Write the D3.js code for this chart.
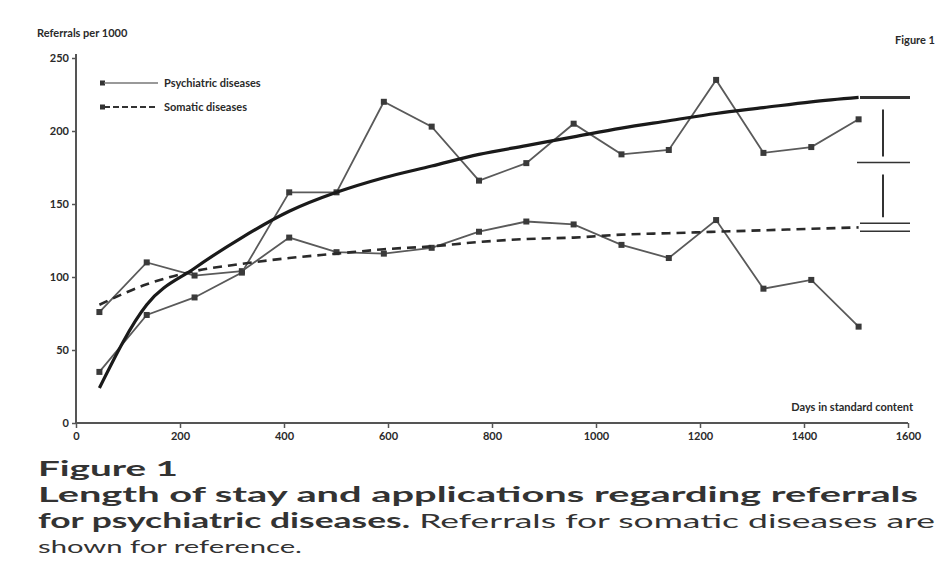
<!DOCTYPE html>
<html>
<head>
<meta charset="utf-8">
<script src="https://cdn.jsdelivr.net/npm/d3@7"></script>
<style>
  html, body { margin: 0; padding: 0; background: #fff; }
  svg { display: block; }
  text { font-family: "Lato", "Open Sans", sans-serif; }
</style>
</head>
<body>
<svg id="chart" width="942" height="576"></svg>
<script>
// ---- data ----
const days = [45, 136, 228, 319, 410, 501, 592, 684, 775, 866, 957, 1049, 1140, 1231, 1322, 1414, 1505];
const psychiatric = [35, 74, 86, 103, 158, 158, 220, 203, 166, 178, 205, 184, 187, 235, 185, 189, 208];
const somatic = [76, 110, 101, 104, 127, 117, 116, 120, 131, 138, 136, 122, 113, 139, 92, 98, 66];
const psychiatricFit = [24, 81, 106, 127, 145, 158, 168, 176, 184, 190, 196, 202, 207, 212, 216, 220, 223];
const somaticFit = [81, 95, 104, 109, 113, 116, 119, 121, 124, 126, 127, 129, 130, 131, 132, 133, 134];
const yTicks = [0, 50, 100, 150, 200, 250];
const xTicks = [0, 200, 400, 600, 800, 1000, 1200, 1400, 1600];
const legendLabels = ["Psychiatric diseases", "Somatic diseases"];
const yAxisTitle = "Referrals per 1000";
const xAxisTitle = "Days in standard content";
const cornerLabel = "Figure 1";
const captionTitle = "Figure 1";
const captionLine1 = "Length of stay and applications regarding referrals";
const captionLine2Bold = "for psychiatric diseases.";
const captionLine2Rest = " Referrals for somatic diseases are";
const captionLine3 = "shown for reference.";

// ---- drawing ----
const svg = d3.select("#chart");
const x = d3.scaleLinear().domain([0, 1600]).range([76, 908]);
const y = d3.scaleLinear().domain([0, 250]).range([423, 58]);
const ink = "#2a2a2a";

// axes
const yAxis = d3.axisLeft(y).tickValues(yTicks).tickSize(4).tickPadding(3).tickFormat(d3.format("d"));
const gy = svg.append("g").attr("transform", `translate(${x(0)},0)`).call(yAxis);
gy.select(".domain").attr("stroke", "#555").attr("stroke-width", 2).attr("d", `M0,${y(0)}V${y(250) - 4}`);
gy.selectAll(".tick line").attr("stroke", "#555").attr("stroke-width", 1.5);
gy.selectAll(".tick text").attr("font-size", 11).attr("font-weight", 700).attr("fill", ink);

const xAxis = d3.axisBottom(x).tickValues(xTicks).tickSize(5).tickPadding(4).tickFormat(d3.format("d"));
const gx = svg.append("g").attr("transform", `translate(0,${y(0)})`).call(xAxis);
gx.select(".domain").attr("stroke", "#555").attr("stroke-width", 2).attr("d", `M${x(0)},0H${x(1600)}`);
gx.selectAll(".tick line").attr("stroke", "#555").attr("stroke-width", 1.5);
gx.selectAll(".tick text").attr("font-size", 11).attr("font-weight", 700).attr("fill", ink);

// titles
svg.append("text").attr("x", 37).attr("y", 37).attr("font-size", 11).attr("font-weight", 700)
  .attr("fill", ink).text(yAxisTitle);
svg.append("text").attr("x", 935).attr("y", 44).attr("text-anchor", "end").attr("font-size", 11)
  .attr("font-weight", 700).attr("fill", ink).text(cornerLabel);
svg.append("text").attr("x", 913).attr("y", 411).attr("text-anchor", "end").attr("font-size", 11)
  .attr("font-weight", 700).attr("fill", ink).text(xAxisTitle);

// lines
const line = d3.line().x((d, i) => x(days[i])).y(d => y(d));
const curve = d3.line().x((d, i) => x(days[i])).y(d => y(d)).curve(d3.curveMonotoneX);

function dataSeries(vals) {
  svg.append("path").attr("d", line(vals)).attr("fill", "none")
    .attr("stroke", "#5a5a5a").attr("stroke-width", 1.8);
  svg.append("g").selectAll("rect").data(vals).join("rect")
    .attr("x", (d, i) => x(days[i]) - 3).attr("y", d => y(d) - 3)
    .attr("width", 6).attr("height", 6).attr("fill", "#3a3a3a");
}
dataSeries(somatic);
dataSeries(psychiatric);

svg.append("path").attr("d", curve(somaticFit)).attr("fill", "none")
  .attr("stroke", "#2a2a2a").attr("stroke-width", 2.6).attr("stroke-dasharray", "9,6");
svg.append("path").attr("d", curve(psychiatricFit)).attr("fill", "none")
  .attr("stroke", "#1a1a1a").attr("stroke-width", 3.2);

// difference bracket at the right end
const last = days.length - 1;
const bx = 883, yTop = y(psychiatricFit[last]), yBot = y(somaticFit[last]);
const yMid = (yTop + yBot) / 2;
const br = svg.append("g").attr("stroke", "#333").attr("fill", "none");
br.append("line").attr("x1", 860).attr("x2", 910).attr("y1", yTop).attr("y2", yTop).attr("stroke-width", 3);
br.append("line").attr("x1", 857).attr("x2", 910).attr("y1", yMid).attr("y2", yMid).attr("stroke-width", 1.5);
br.append("line").attr("x1", 860).attr("x2", 910).attr("y1", yBot - 4).attr("y2", yBot - 4).attr("stroke-width", 1.5);
br.append("line").attr("x1", 860).attr("x2", 910).attr("y1", yBot + 4).attr("y2", yBot + 4).attr("stroke-width", 1.5);
br.append("line").attr("x1", bx).attr("x2", bx).attr("y1", yTop + 12).attr("y2", yMid - 6).attr("stroke-width", 2);
br.append("line").attr("x1", bx).attr("x2", bx).attr("y1", yMid + 12).attr("y2", yBot - 10).attr("stroke-width", 2);

// legend
const lg = svg.append("g");
legendLabels.forEach((lab, i) => {
  const ly = 83 + i * 24;
  lg.append("rect").attr("x", 100).attr("y", ly - 2.5).attr("width", 5).attr("height", 5).attr("fill", "#333");
  lg.append("line").attr("x1", 104).attr("x2", 158).attr("y1", ly).attr("y2", ly)
    .attr("stroke", i === 0 ? "#777" : "#333").attr("stroke-width", i === 0 ? 1.5 : 2)
    .attr("stroke-dasharray", i === 0 ? null : "6,3");
  lg.append("text").attr("x", 164).attr("y", ly + 4).attr("font-size", 11).attr("font-weight", 700)
    .attr("fill", ink).text(lab);
});

// caption
const cap = svg.append("g").attr("fill", "#333");
cap.append("text").attr("x", 38).attr("y", 476).attr("font-size", 20).attr("font-weight", 700)
  .attr("textLength", 140).attr("lengthAdjust", "spacingAndGlyphs").text(captionTitle);
cap.append("text").attr("x", 38).attr("y", 502).attr("font-size", 20).attr("font-weight", 700)
  .attr("textLength", 880).attr("lengthAdjust", "spacingAndGlyphs").text(captionLine1);
const t3 = cap.append("text").attr("x", 38).attr("y", 528).attr("font-size", 20)
  .attr("textLength", 897).attr("lengthAdjust", "spacingAndGlyphs");
t3.append("tspan").attr("font-weight", 700).text(captionLine2Bold);
t3.append("tspan").attr("font-weight", 400).text(captionLine2Rest);
cap.append("text").attr("x", 38).attr("y", 553).attr("font-size", 18).attr("font-weight", 400)
  .attr("textLength", 264).attr("lengthAdjust", "spacingAndGlyphs").text(captionLine3);
</script>
</body>
</html>
